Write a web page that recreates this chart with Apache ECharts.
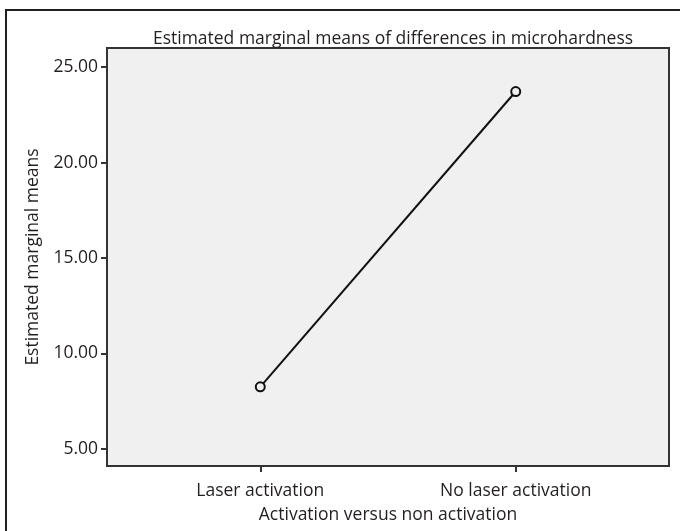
<!DOCTYPE html>
<html>
<head>
<meta charset="utf-8">
<script src="https://cdn.jsdelivr.net/npm/echarts@6/dist/echarts.min.js"></script>
<style>html,body{margin:0;padding:0;background:#fff;}#c{width:680px;height:531px;}</style>
</head>
<body>
<div id="c"></div>
<script>
const categories = ['Laser activation', 'No laser activation'];
const meanValues = [8.25, 23.72];
const yTicks = [5, 10, 15, 20, 25];

const FONT = 'Open Sans';
const TXT = '#231f20';
const FS = 17.5;
const chart = echarts.init(document.getElementById('c'), null, {renderer: 'canvas'});
chart.setOption({
  backgroundColor: '#ffffff',
  animation: false,
  title: {
    text: 'Estimated marginal means of differences in microhardness',
    left: 388, top: 25, textAlign: 'center',
    textStyle: {fontFamily: FONT, fontSize: FS, fontWeight: 'normal', color: TXT}
  },
  graphic: [{
    type: 'rect', shape: {x: 6, y: 10, width: 700, height: 600},
    style: {fill: 'none', stroke: '#231f20', lineWidth: 2}, silent: true
  }],
  grid: {left: 107, top: 48, right: 11, bottom: 65, show: true,
    backgroundColor: '#f0f0f0', borderColor: '#333', borderWidth: 2},
  xAxis: {
    type: 'value', min: -0.6, max: 1.6,
    name: 'Activation versus non activation', nameLocation: 'middle', nameGap: 40,
    nameTextStyle: {fontFamily: FONT, fontSize: FS, color: TXT},
    axisLine: {show: false, onZero: false},
    axisTick: {show: true, customValues: categories.map((c, i) => i), length: 6, lineStyle: {color: '#333', width: 2}},
    axisLabel: {customValues: categories.map((c, i) => i), formatter: v => categories[Math.round(v)],
      fontFamily: FONT, fontSize: FS, color: TXT, margin: 16},
    splitLine: {show: false}
  },
  yAxis: {
    type: 'value', min: 4.1, max: 26,
    name: 'Estimated marginal means', nameLocation: 'middle', nameGap: 64,
    nameTextStyle: {fontFamily: FONT, fontSize: FS, color: TXT},
    axisLine: {show: false, onZero: false},
    axisTick: {show: true, customValues: yTicks, length: 6, lineStyle: {color: '#333', width: 2}},
    axisLabel: {customValues: yTicks, formatter: v => v.toFixed(2),
      fontFamily: FONT, fontSize: FS, color: TXT, margin: 9},
    splitLine: {show: false}
  },
  series: [{
    type: 'line',
    data: meanValues.map((v, i) => [i, v]),
    symbol: 'circle', symbolSize: 9,
    lineStyle: {color: '#111', width: 2},
    itemStyle: {color: '#f0f0f0', borderColor: '#111', borderWidth: 2}
  }]
});
</script>
</body>
</html>
